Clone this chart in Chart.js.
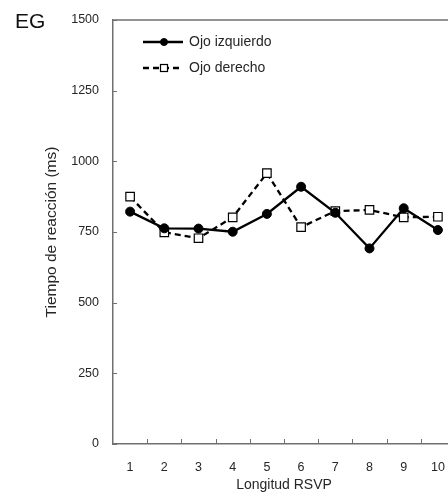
<!DOCTYPE html>
<html>
<head>
<meta charset="utf-8">
<script src="https://cdn.jsdelivr.net/npm/chart.js@4.4.1/dist/chart.umd.min.js"></script>
<style>
  html, body { margin: 0; padding: 0; background: #fff; overflow: hidden; width: 448px; height: 494px; }
  #wrap { width: 470px; height: 494px; }
</style>
</head>
<body>
<div id="wrap"><canvas id="c" width="470" height="494"></canvas></div>
<script>
const categories = ['1', '2', '3', '4', '5', '6', '7', '8', '9', '10'];
const ojoIzquierdo = [822, 763, 762, 751, 814, 910, 818, 692, 834, 757];
const ojoDerecho = [875, 749, 728, 802, 958, 767, 824, 828, 802, 804];
const yTicks = [0, 250, 500, 750, 1000, 1250, 1500];
const seriesNames = ['Ojo izquierdo', 'Ojo derecho'];
const panelLabel = 'EG';
const xTitle = 'Longitud RSVP';
const yTitle = 'Tiempo de reacción (ms)';

const FONT = "'Liberation Sans', Arial, sans-serif";
const TEXT = '#262626';
const AXIS = '#707070';

const extras = {
  id: 'extras',
  afterDraw(chart) {
    const ctx = chart.ctx;
    const a = chart.chartArea;
    const xs = chart.scales.x, ys = chart.scales.y;
    ctx.save();
    ctx.strokeStyle = AXIS;
    ctx.lineWidth = 1.5;
    ctx.beginPath();
    ctx.moveTo(a.left, a.top);
    ctx.lineTo(a.right, a.top);
    ctx.lineTo(a.right, a.bottom);
    ctx.stroke();
    ctx.lineWidth = 1;
    ctx.beginPath();
    yTicks.forEach(v => {
      const py = Math.round(ys.getPixelForValue(v)) + 0.5;
      ctx.moveTo(a.left, py);
      ctx.lineTo(a.left + 4, py);
    });
    for (let i = 0; i < categories.length - 1; i++) {
      const px = Math.round((xs.getPixelForValue(i) + xs.getPixelForValue(i + 1)) / 2) + 0.5;
      ctx.moveTo(px, a.bottom);
      ctx.lineTo(px, a.bottom - 5);
    }
    ctx.stroke();
    ctx.fillStyle = '#111';
    ctx.font = '21px ' + FONT;
    ctx.textBaseline = 'alphabetic';
    ctx.textAlign = 'left';
    ctx.fillText(panelLabel, 15, 28);
    const lx = a.left + 30;
    const rows = [a.top + 22, a.top + 48];
    chart.data.datasets.forEach((ds, i) => {
      const y = rows[i];
      ctx.strokeStyle = ds.borderColor;
      ctx.lineWidth = ds.borderWidth;
      ctx.setLineDash(ds.borderDash || []);
      ctx.beginPath();
      ctx.moveTo(lx, y);
      ctx.lineTo(lx + 40, y);
      ctx.stroke();
      ctx.setLineDash([]);
      const mx = lx + 21;
      ctx.lineWidth = ds.pointBorderWidth;
      ctx.fillStyle = ds.pointBackgroundColor;
      ctx.strokeStyle = ds.pointBorderColor;
      if (ds.pointStyle === 'circle') {
        ctx.beginPath();
        ctx.arc(mx, y, 3.5, 0, Math.PI * 2);
        ctx.fill();
        ctx.stroke();
      } else {
        ctx.fillRect(mx - 3.5, y - 3.5, 7, 7);
        ctx.strokeRect(mx - 3.5, y - 3.5, 7, 7);
      }
      ctx.fillStyle = TEXT;
      ctx.font = '14px ' + FONT;
      ctx.textBaseline = 'middle';
      ctx.fillText(seriesNames[i], lx + 46, y);
    });
    ctx.restore();
  }
};

new Chart(document.getElementById('c'), {
  type: 'line',
  data: {
    labels: categories,
    datasets: [
      {
        label: seriesNames[0],
        data: ojoIzquierdo,
        borderColor: '#000',
        borderWidth: 2.3,
        pointStyle: 'circle',
        pointRadius: 4.5,
        pointBackgroundColor: '#000',
        pointBorderColor: '#000',
        pointBorderWidth: 1,
        tension: 0
      },
      {
        label: seriesNames[1],
        data: ojoDerecho,
        borderColor: '#000',
        borderWidth: 2.3,
        borderDash: [6, 4],
        pointStyle: 'rect',
        pointRadius: 6,
        pointBackgroundColor: '#fff',
        pointBorderColor: '#000',
        pointBorderWidth: 1.2,
        tension: 0
      }
    ]
  },
  options: {
    responsive: false,
    animation: false,
    devicePixelRatio: 1,
    layout: { padding: { left: 0, top: 20, right: 15, bottom: 0 } },
    plugins: { legend: { display: false }, tooltip: { enabled: false } },
    scales: {
      x: {
        offset: true,
        grid: { display: false, offset: true },
        border: { display: true, color: AXIS, width: 1.5 },
        ticks: { color: TEXT, font: { family: FONT, size: 12.5 }, padding: 8, maxRotation: 0, autoSkip: false },
        title: { display: true, text: xTitle, color: TEXT, font: { family: FONT, size: 14 }, padding: { top: 0, bottom: 0 } },
        afterFit(s) { s.height = 50; }
      },
      y: {
        min: 0,
        max: 1500,
        afterBuildTicks(s) { s.ticks = yTicks.map(v => ({ value: v })); },
        grid: { display: false },
        border: { display: true, color: AXIS, width: 1.5 },
        ticks: { color: TEXT, font: { family: FONT, size: 12.5 }, padding: 6, callback: v => String(v) },
        title: { display: true, text: yTitle, color: TEXT, font: { family: FONT, size: 15.5 }, padding: { top: 42, bottom: 0 } },
        afterFit(s) { s.width = 113; }
      }
    }
  },
  plugins: [extras]
});
</script>
</body>
</html>
